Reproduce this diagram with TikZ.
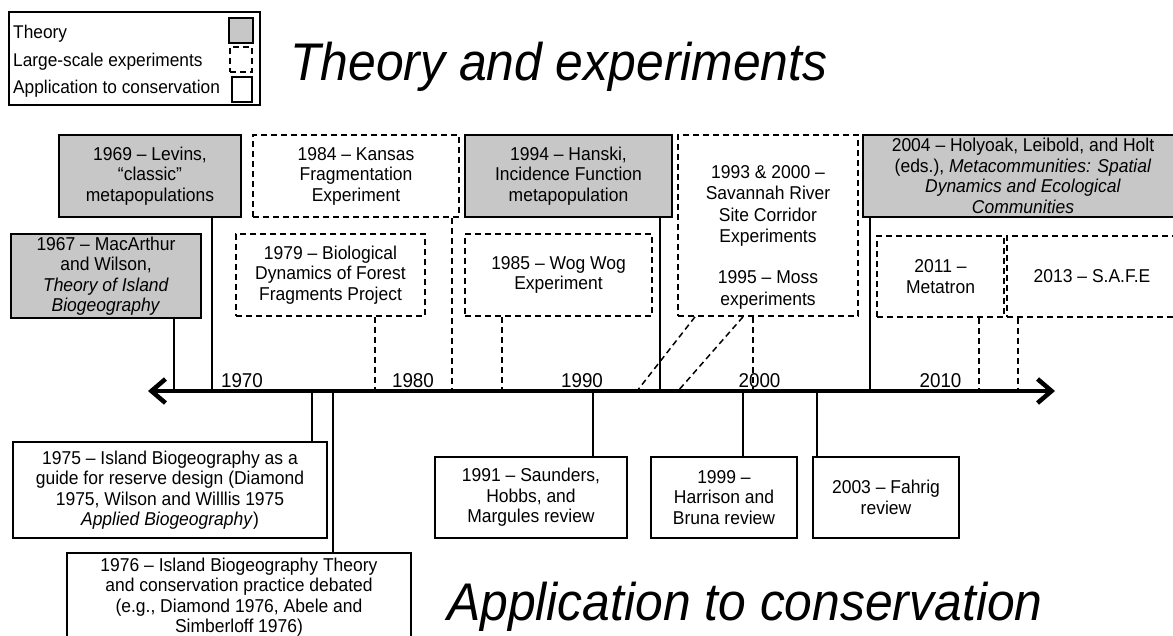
\documentclass[tikz,border=0pt]{standalone}
\usepackage{fontspec}
\setmainfont{Liberation Sans}[FakeStretch=0.94]
\usetikzlibrary{arrows.meta}
\definecolor{theorygray}{RGB}{199,199,199}
\tikzset{
  x=1pt, y=-1pt,
  basebox/.style={draw=black, line width=1.7pt, inner sep=0pt, align=center,
    font=\fontsize{18.6}{20.5}\selectfont},
  theory/.style={basebox, fill=theorygray},
  expt/.style={basebox, dash pattern=on 6pt off 4pt},
  appl/.style={basebox},
  txt/.style={inner sep=0pt, align=center, font=\fontsize{18.6}{20.5}\selectfont},
  legtxt/.style={anchor=base west, inner sep=0pt, font=\fontsize{18.4}{20}\selectfont},
  solidc/.style={line width=1.5pt},
  dashc/.style={line width=1.5pt, dash pattern=on 6pt off 4pt},
  yr/.style={anchor=base, inner sep=0pt, font=\fontsize{20}{20}\selectfont},
  ttl/.style={anchor=base west, inner sep=0pt, font=\fontsize{53}{53}\selectfont\itshape},
  timeline/.style={line width=4.5pt,
    {Straight Barb[length=14pt,width=24pt]}-{Straight Barb[length=14pt,width=24pt]}},
}
\newcommand\tbox[7]{\node[#2, minimum width={(#5)-(#3)}, minimum height={(#6)-(#4)}] (#1) at ({((#3)+(#5))/2},{((#4)+(#6))/2}) {#7};}
\begin{document}
\begin{tikzpicture}
\useasboundingbox (0,0) rectangle (1173,635);
\clip (0,0) rectangle (1173,635);
% legend
\node[draw, line width=1.5pt, minimum width=251pt, minimum height=93pt, inner sep=0pt] (legend) at (134.5,58.5) {};
\node[legtxt] (lg1) at (13,38.5) {Theory};
\node[legtxt] (lg2) at (13,66) {Large-scale experiments};
\node[legtxt] (lg3) at (13,93) {Application to conservation};
\tbox{sw1}{theory}{229}{18}{253}{43}{}
\tbox{sw2}{expt}{230}{47}{252}{72}{}
\tbox{sw3}{appl}{232}{77}{252}{102}{}
% titles
\node[ttl] (t1) at (290,80) {Theory and experiments};
\node[ttl] (t2) at (447,620) {Application to conservation};
% top row
\tbox{lev}{theory}{59}{135}{241}{217}{1969 – Levins,\\“classic”\\metapopulations}
\tbox{kan}{expt}{253}{135}{459}{217}{1984 – Kansas\\Fragmentation\\Experiment}
\tbox{han}{theory}{465}{135}{672}{217}{1994 – Hanski,\\Incidence Function\\metapopulation}
\tbox{sav}{expt}{678}{135}{858}{316}{}
\node[txt, font=\fontsize{18.6}{21.5}\selectfont] (savt) at (768,237) {1993 \& 2000 –\\Savannah River\\Site Corridor\\Experiments\\[19.5pt]1995 – Moss\\experiments};
\tbox{hol}{theory}{863}{135}{1183}{217}{2004 – Holyoak, Leibold, and Holt\\(eds.), \textit{Metacommunities: Spatial}\\\textit{Dynamics and Ecological}\\\textit{Communities}}
% second row
\tbox{mac}{theory}{11}{234}{201}{318}{1967 – MacArthur\\and Wilson,\\\textit{Theory of Island}\\\textit{Biogeography}}
\tbox{bio}{expt}{236}{234}{425}{316}{1979 – Biological\\Dynamics of Forest\\Fragments Project}
\tbox{wog}{expt}{465}{234}{652}{316}{1985 – Wog Wog\\Experiment}
\tbox{met}{expt}{877}{236}{1004}{317}{2011 –\\Metatron}
\tbox{safe}{expt}{1007}{236}{1177}{317}{2013 – S.A.F.E}
% bottom boxes
\tbox{i75}{appl}{13}{442}{327}{538}{1975 – Island Biogeography as a\\guide for reserve design (Diamond\\1975, Wilson and Willlis 1975\\\textit{Applied Biogeography})}
\tbox{i76}{appl}{67}{553}{411}{641}{1976 – Island Biogeography Theory\\and conservation practice debated\\(e.g., Diamond 1976, Abele and\\Simberloff 1976)}
\tbox{s91}{appl}{435}{457}{627}{538}{1991 – Saunders,\\Hobbs, and\\Margules review}
\tbox{h99}{appl}{651}{457}{797}{538}{1999 –\\Harrison and\\Bruna review}
\tbox{f03}{appl}{813}{457}{959}{538}{2003 – Fahrig\\review}
% axis
\coordinate (axL) at (148,391);
\coordinate (axR) at (1055,391);
% connectors above
\draw[solidc] (mac.south -| 174,0) -- (axL -| 174,0);
\draw[solidc] (lev.south -| 212,0) -- (axL -| 212,0);
\draw[dashc] (bio.south -| 375,0) -- (axL -| 375,0);
\draw[dashc] (kan.south -| 452,0) -- (axL -| 452,0);
\draw[dashc] (wog.south -| 502,0) -- (axL -| 502,0);
\draw[solidc] (han.south -| 660,0) -- (axL -| 660,0);
\draw[dashc] (sav.south -| 695,0) -- (axL -| 637,0);
\draw[dashc] (sav.south -| 743,0) -- (axL -| 678,0);
\draw[dashc] (sav.south -| 753,0) -- (axL -| 753,0);
\draw[solidc] (hol.south -| 870,0) -- (axL -| 870,0);
\draw[dashc] (met.south -| 979,0) -- (axL -| 979,0);
\draw[dashc] (safe.south -| 1018,0) -- (axL -| 1018,0);
% connectors below
\draw[solidc] (axL -| 312,0) -- (i75.north -| 312,0);
\draw[solidc] (axL -| 333,0) -- (i76.north -| 333,0);
\draw[solidc] (axL -| 593,0) -- (s91.north -| 593,0);
\draw[solidc] (axL -| 743,0) -- (h99.north -| 743,0);
\draw[solidc] (axL -| 817,0) -- (f03.north -| 817,0);
% year labels
\node[yr] (y70) at (242,387) {1970};
\node[yr] (y80) at (413,387) {1980};
\node[yr] (y90) at (582,387) {1990};
\node[yr] (y00) at (759.5,387) {2000};
\node[yr] (y10) at (940.5,387) {2010};
\draw[timeline] (axL) -- (axR);
\end{tikzpicture}
\end{document}
